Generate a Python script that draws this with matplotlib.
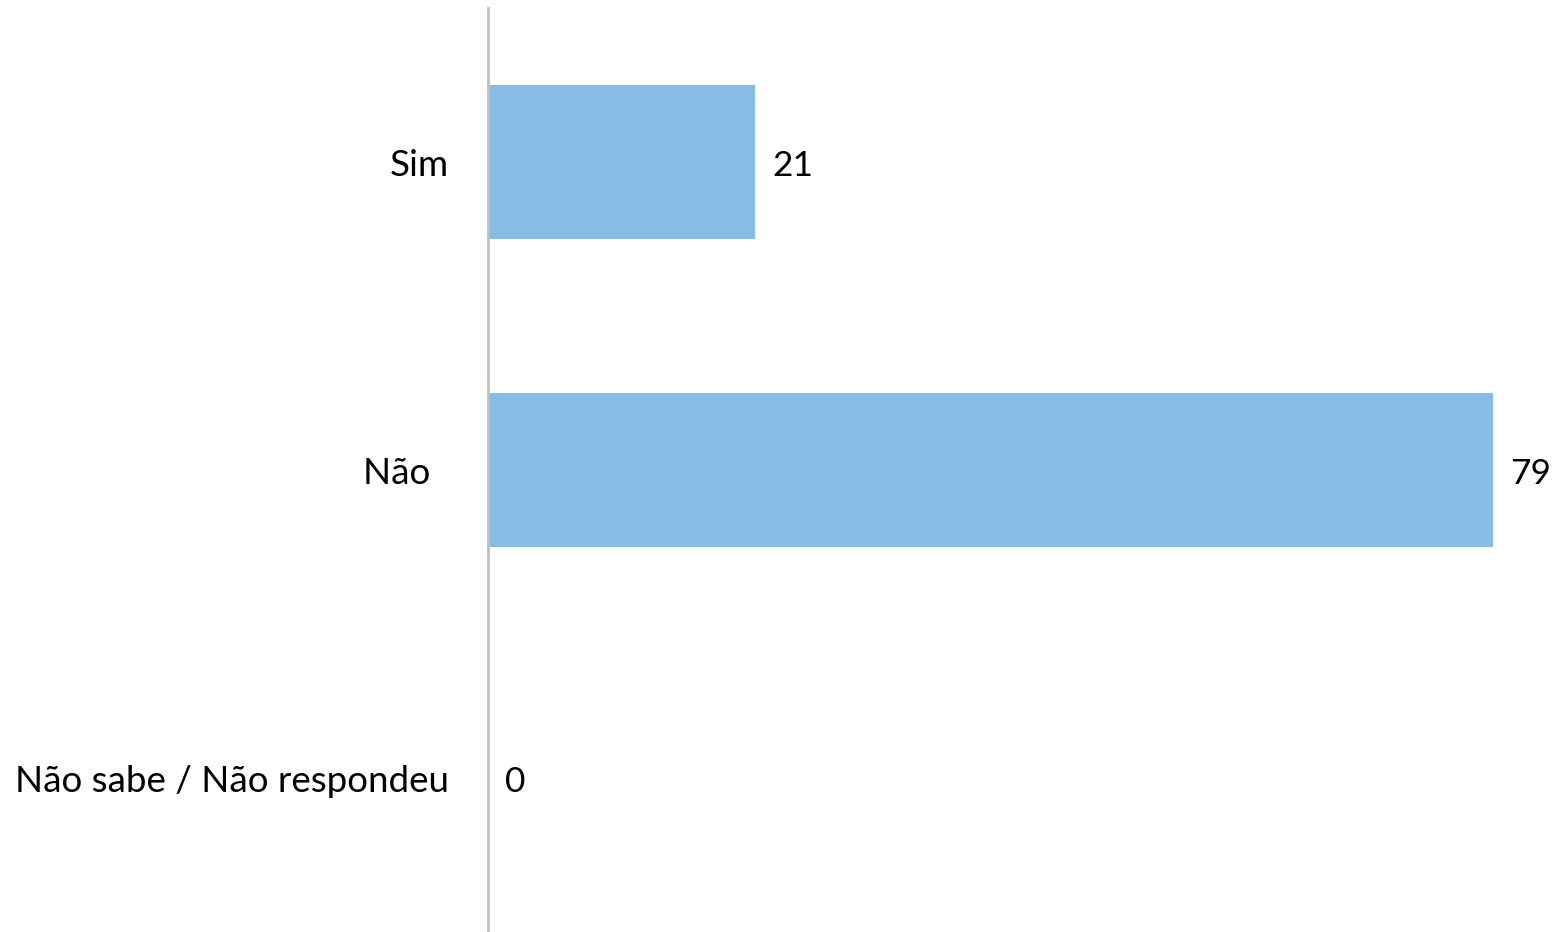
import matplotlib
matplotlib.use("Agg")
import matplotlib.pyplot as plt

categories = ["Sim", "Não  ", "Não sabe / Não respondeu"]
values = [21, 79, 0]

plt.rcParams['font.family'] = ['Lato', 'DejaVu Sans']

fig = plt.figure(figsize=(15.58, 9.32), dpi=100)
ax = fig.add_axes([488 / 1558, 0, 1070 / 1558, 924 / 932])

ax.barh(range(len(values)), values, height=0.5, color="#87BDE4")
ax.set_xlim(0, 79 * 1070 / 1005)
ax.set_ylim(2.5, -0.5)

for i, v in enumerate(values):
    ax.annotate(str(v), xy=(v, i), xytext=(17, -4), textcoords="offset pixels",
                va="center", ha="left", fontsize=25.5, color="black")

ax.set_yticks(range(len(categories)))
ax.set_yticklabels(categories, fontsize=26.5)
ax.tick_params(axis="y", length=0, pad=28)
ax.set_xticks([])
for s in ["top", "right", "bottom"]:
    ax.spines[s].set_visible(False)
ax.spines["left"].set_color("#BFBFBF")
ax.spines["left"].set_linewidth(2)

fig.savefig("out.png", dpi=100)
